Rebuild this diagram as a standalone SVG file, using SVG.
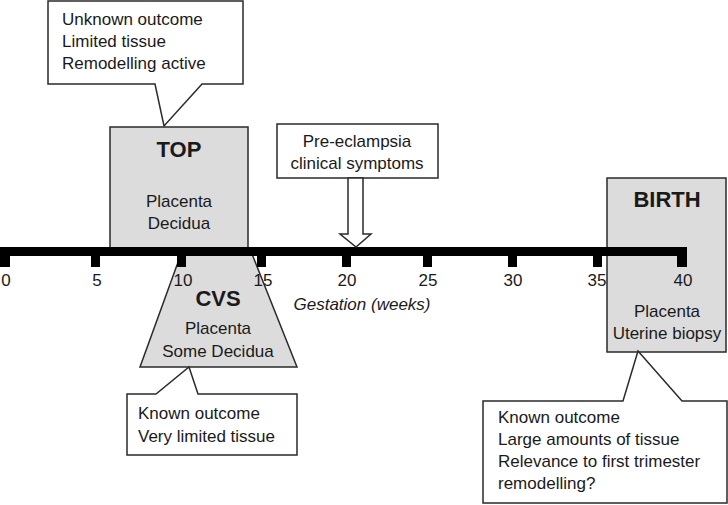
<svg xmlns="http://www.w3.org/2000/svg" width="728" height="505" viewBox="0 0 728 505">
<style>
text{font-family:"Liberation Sans",Arial,sans-serif;fill:#1a1a1a;font-size:17px}
.b{font-weight:bold;font-size:22px}
.c{text-anchor:middle}
.box{fill:#dcdcdc;stroke:#2a2a2a;stroke-width:1.5}
.call{fill:#fff;stroke:#2a2a2a;stroke-width:1.5;stroke-linejoin:miter}
.tick{fill:#000}
</style>
<g id="top-callout">
<path class="call" d="M48,1 H243 V84 H202 L164,126 L155,84 H48 Z"/>
<text x="62" y="25">Unknown outcome</text>
<text x="62" y="47">Limited tissue</text>
<text x="62" y="69">Remodelling active</text>
</g>
<g id="top">
<rect class="box" x="110" y="127" width="138" height="124"/>
<text class="b c" x="179" y="157">TOP</text>
<text class="c" x="179" y="207">Placenta</text>
<text class="c" x="179" y="229">Decidua</text>
</g>
<g id="cvs">
<path class="box" d="M181,254 H252 L297,367 H140 Z"/>
<text class="b c" x="218" y="306">CVS</text>
<text class="c" x="218" y="334">Placenta</text>
<text class="c" x="218" y="357">Some Decidua</text>
</g>
<g id="cvs-callout">
<path class="call" d="M127,394 H156 L189,367 L198,394 H297 V455 H127 Z"/>
<text x="138" y="419">Known outcome</text>
<text x="138" y="442">Very limited tissue</text>
</g>
<g id="preeclampsia">
<rect class="call" x="277" y="124" width="161" height="54"/>
<text class="c" x="357" y="147">Pre-eclampsia</text>
<text class="c" x="357" y="169">clinical symptoms</text>
</g>
<g id="timeline-labels">
<text class="c" x="6" y="286">0</text>
<text class="c" x="97" y="286">5</text>
<text class="c" x="183" y="286">10</text>
<text class="c" x="263" y="286">15</text>
<text class="c" x="347" y="286">20</text>
<text class="c" x="428" y="286">25</text>
<text class="c" x="513" y="286">30</text>
<text class="c" x="597" y="286">35</text>
<text class="c" x="362" y="310" font-style="italic" font-size="16">Gestation (weeks)</text>
</g>
<g id="birth">
<rect class="box" x="607" y="178" width="119" height="174"/>
<text class="b c" x="667" y="207">BIRTH</text>
<text class="c" x="683" y="286">40</text>
<text class="c" x="667" y="317">Placenta</text>
<text class="c" x="667" y="339">Uterine biopsy</text>
</g>
<g id="birth-callout">
<path class="call" d="M483,401 H623 L638,351 L682,401 H727 V503 H483 Z"/>
<text x="498" y="423">Known outcome</text>
<text x="498" y="445">Large amounts of tissue</text>
<text x="498" y="467">Relevance to first trimester</text>
<text x="498" y="489">remodelling?</text>
</g>
<g id="timeline">
<rect class="tick" x="0" y="247" width="687" height="9"/>
<rect class="tick" x="0" y="250" width="10" height="17"/>
<rect class="tick" x="91" y="250" width="9" height="17"/>
<rect class="tick" x="177" y="250" width="9" height="17"/>
<rect class="tick" x="257" y="250" width="9" height="17"/>
<rect class="tick" x="342" y="250" width="9" height="17"/>
<rect class="tick" x="423" y="250" width="9" height="17"/>
<rect class="tick" x="508" y="250" width="9" height="17"/>
<rect class="tick" x="593" y="250" width="9" height="17"/>
<rect class="tick" x="677" y="250" width="10" height="17"/>
</g>
<g id="connectors">
<path class="call" d="M348,178 V234 H340 L356,247 L371,234 H363 V178 Z"/>
</g>
</svg>
